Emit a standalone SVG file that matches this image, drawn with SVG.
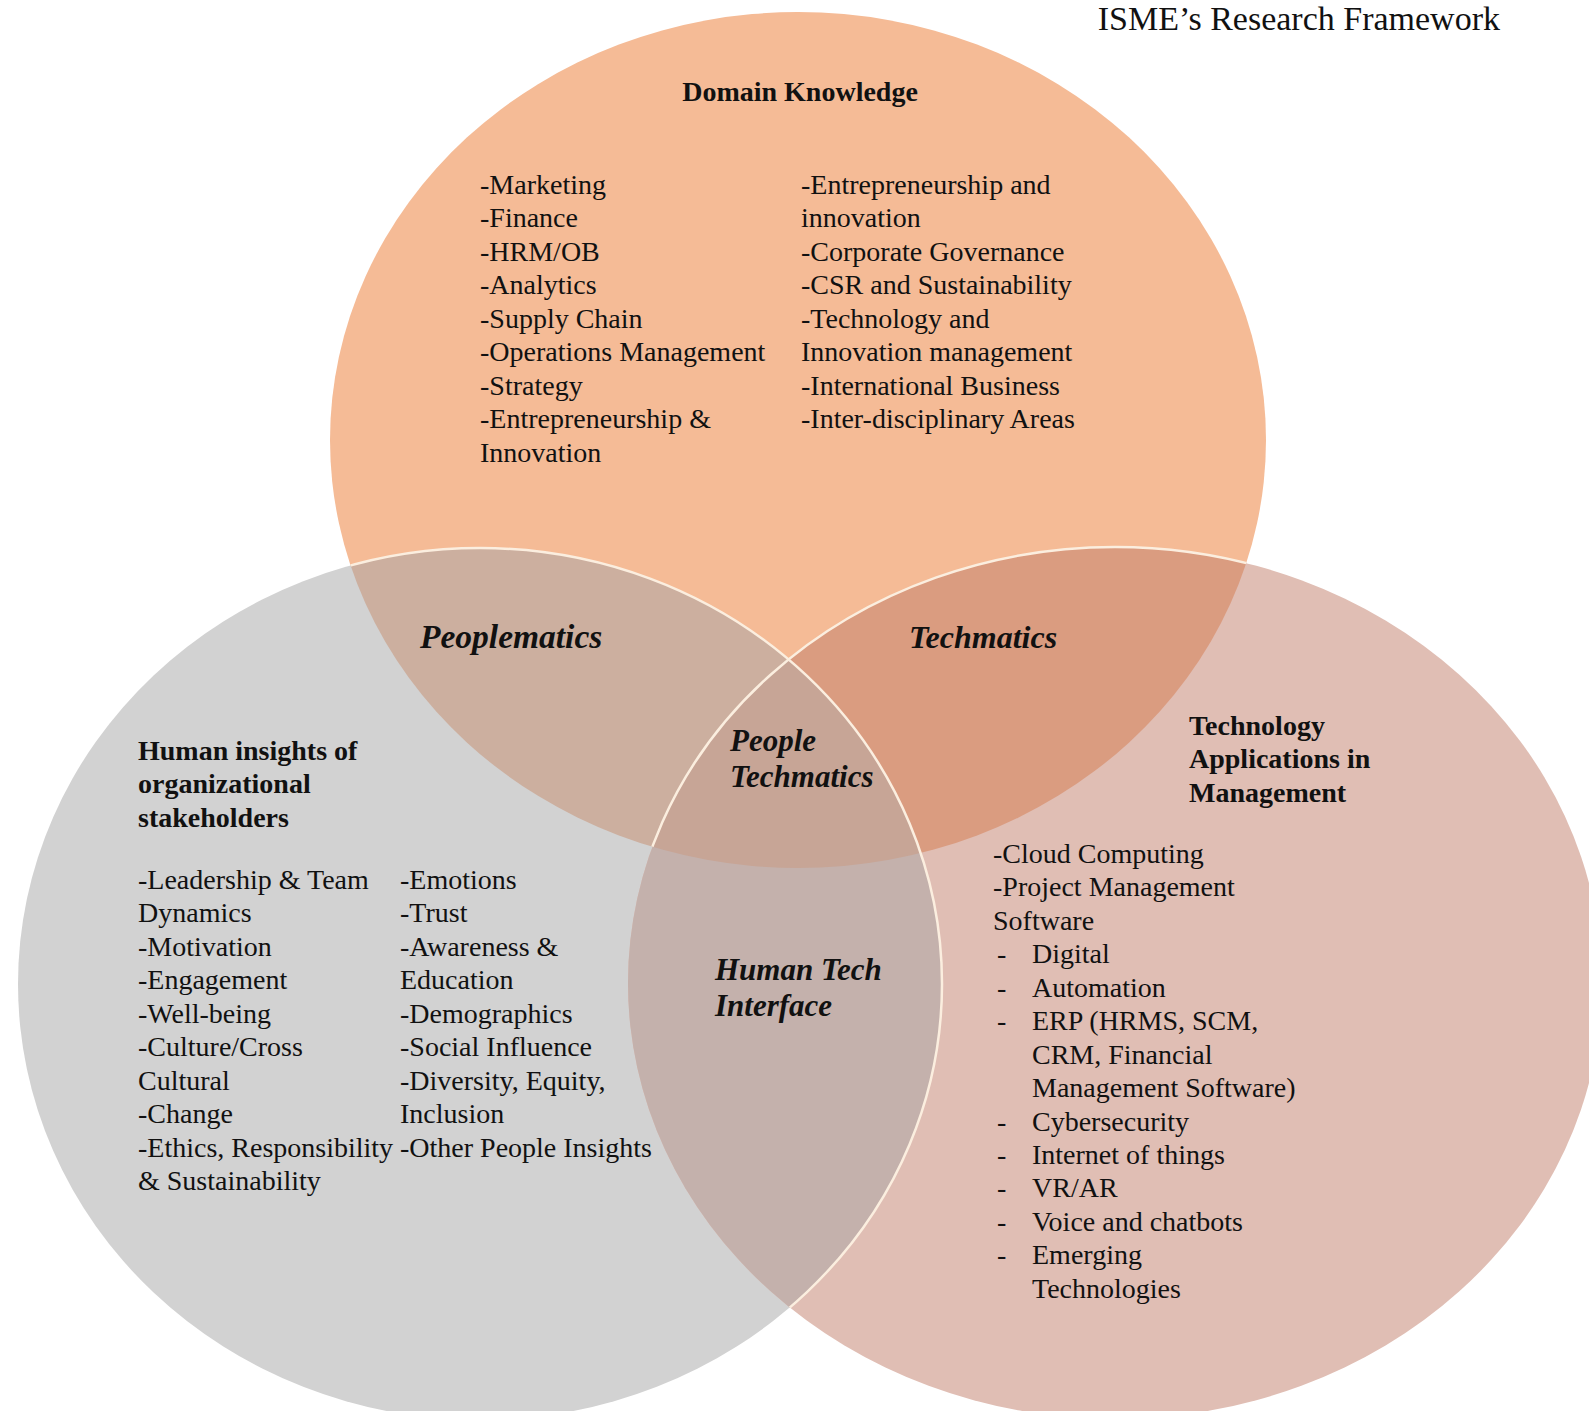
<svg xmlns="http://www.w3.org/2000/svg" width="1589" height="1411" viewBox="0 0 1589 1411">
<style>
.t{font-family:"Liberation Serif","Times New Roman",serif;font-size:28px;fill:#111111}
.b{font-weight:bold}
.bi{font-weight:bold;font-style:italic;font-size:32px}
.arc{fill:none;stroke:#FBEEDF;stroke-width:2.5}
</style>
<defs>
<ellipse id="eTop" cx="798" cy="440" rx="468" ry="428"/>
<ellipse id="eLeft" cx="480" cy="984" rx="462" ry="436"/>
<ellipse id="eRight" cx="1115" cy="983" rx="487" ry="436"/>
<clipPath id="cTop"><use href="#eTop"/></clipPath>
<clipPath id="cLeft"><use href="#eLeft"/></clipPath>
<clipPath id="cTopRight"><use href="#eTop"/><use href="#eRight"/></clipPath>
</defs>
<rect width="1589" height="1411" fill="#ffffff"/>

<g id="domain-knowledge">
<use href="#eTop" fill="#F5BB96"/>
</g>
<g id="human-insights">
<use href="#eLeft" fill="#D2D2D2"/>
</g>
<g id="technology-applications">
<use href="#eRight" fill="#E0BEB4"/>
</g>
<g id="peoplematics">
<g clip-path="url(#cTop)"><use href="#eLeft" fill="#CCAF9F"/></g>
</g>
<g id="techmatics">
<g clip-path="url(#cTop)"><use href="#eRight" fill="#DA9C80"/></g>
</g>
<g id="human-tech-interface">
<g clip-path="url(#cLeft)"><use href="#eRight" fill="#C4B1AC"/></g>
</g>
<g id="people-techmatics">
<g clip-path="url(#cTop)"><g clip-path="url(#cLeft)"><use href="#eRight" fill="#C7A596"/></g></g>
</g>
<g id="outlines">
<g clip-path="url(#cTop)"><use href="#eRight" class="arc"/></g>
<g clip-path="url(#cTopRight)"><use href="#eLeft" class="arc"/></g>
</g>
<g id="connectors"/>

<g id="title">
<text class="t" x="1500" y="30" text-anchor="end" style="font-size:34px">ISME’s Research Framework</text>
</g>

<g id="domain-text">
<text class="t b" x="800" y="101" text-anchor="middle">Domain Knowledge</text>
<text class="t" x="480" y="194">
<tspan x="480">-Marketing</tspan>
<tspan x="480" dy="33.44">-Finance</tspan>
<tspan x="480" dy="33.44">-HRM/OB</tspan>
<tspan x="480" dy="33.44">-Analytics</tspan>
<tspan x="480" dy="33.44">-Supply Chain</tspan>
<tspan x="480" dy="33.44">-Operations Management</tspan>
<tspan x="480" dy="33.44">-Strategy</tspan>
<tspan x="480" dy="33.44">-Entrepreneurship &amp;</tspan>
<tspan x="480" dy="33.44">Innovation</tspan>
</text>
<text class="t" x="801" y="194">
<tspan x="801">-Entrepreneurship and</tspan>
<tspan x="801" dy="33.44">innovation</tspan>
<tspan x="801" dy="33.44">-Corporate Governance</tspan>
<tspan x="801" dy="33.44">-CSR and Sustainability</tspan>
<tspan x="801" dy="33.44">-Technology and</tspan>
<tspan x="801" dy="33.44">Innovation management</tspan>
<tspan x="801" dy="33.44">-International Business</tspan>
<tspan x="801" dy="33.44">-Inter-disciplinary Areas</tspan>
</text>
</g>

<g id="overlap-labels">
<text class="t bi" x="420" y="648" style="font-size:33.5px">Peoplematics</text>
<text class="t bi" x="909" y="648">Techmatics</text>
<text class="t bi" x="730" y="751" style="font-size:31px"><tspan x="730">People</tspan><tspan x="730" dy="35.5">Techmatics</tspan></text>
<text class="t bi" x="715" y="980" style="font-size:31px"><tspan x="715">Human Tech</tspan><tspan x="715" dy="35.5">Interface</tspan></text>
</g>

<g id="human-text">
<text class="t b" x="138" y="760">
<tspan x="138">Human insights of</tspan>
<tspan x="138" dy="33.44">organizational</tspan>
<tspan x="138" dy="33.44">stakeholders</tspan>
</text>
<text class="t" x="138" y="889">
<tspan x="138">-Leadership &amp; Team</tspan>
<tspan x="138" dy="33.44">Dynamics</tspan>
<tspan x="138" dy="33.44">-Motivation</tspan>
<tspan x="138" dy="33.44">-Engagement</tspan>
<tspan x="138" dy="33.44">-Well-being</tspan>
<tspan x="138" dy="33.44">-Culture/Cross</tspan>
<tspan x="138" dy="33.44">Cultural</tspan>
<tspan x="138" dy="33.44">-Change</tspan>
<tspan x="138" dy="33.44">-Ethics, Responsibility</tspan>
<tspan x="138" dy="33.44">&amp; Sustainability</tspan>
</text>
<text class="t" x="400" y="889">
<tspan x="400">-Emotions</tspan>
<tspan x="400" dy="33.44">-Trust</tspan>
<tspan x="400" dy="33.44">-Awareness &amp;</tspan>
<tspan x="400" dy="33.44">Education</tspan>
<tspan x="400" dy="33.44">-Demographics</tspan>
<tspan x="400" dy="33.44">-Social Influence</tspan>
<tspan x="400" dy="33.44">-Diversity, Equity,</tspan>
<tspan x="400" dy="33.44">Inclusion</tspan>
<tspan x="400" dy="33.44">-Other People Insights</tspan>
</text>
</g>

<g id="tech-text">
<text class="t b" x="1189" y="735">
<tspan x="1189">Technology</tspan>
<tspan x="1189" dy="33.44">Applications in</tspan>
<tspan x="1189" dy="33.44">Management</tspan>
</text>
<text class="t" x="993" y="863">
<tspan x="993">-Cloud Computing</tspan>
<tspan x="993" dy="33.44">-Project Management</tspan>
<tspan x="993" dy="33.44">Software</tspan>
</text>
<text class="t" x="997" y="963.3">
<tspan x="997">-</tspan>
<tspan x="997" dy="33.44">-</tspan>
<tspan x="997" dy="33.44">-</tspan>
<tspan x="997" dy="100.32">-</tspan>
<tspan x="997" dy="33.44">-</tspan>
<tspan x="997" dy="33.44">-</tspan>
<tspan x="997" dy="33.44">-</tspan>
<tspan x="997" dy="33.44">-</tspan>
</text>
<text class="t" x="1032" y="963.3">
<tspan x="1032">Digital</tspan>
<tspan x="1032" dy="33.44">Automation</tspan>
<tspan x="1032" dy="33.44">ERP (HRMS, SCM,</tspan>
<tspan x="1032" dy="33.44">CRM, Financial</tspan>
<tspan x="1032" dy="33.44">Management Software)</tspan>
<tspan x="1032" dy="33.44">Cybersecurity</tspan>
<tspan x="1032" dy="33.44">Internet of things</tspan>
<tspan x="1032" dy="33.44">VR/AR</tspan>
<tspan x="1032" dy="33.44">Voice and chatbots</tspan>
<tspan x="1032" dy="33.44">Emerging</tspan>
<tspan x="1032" dy="33.44">Technologies</tspan>
</text>
</g>
</svg>
